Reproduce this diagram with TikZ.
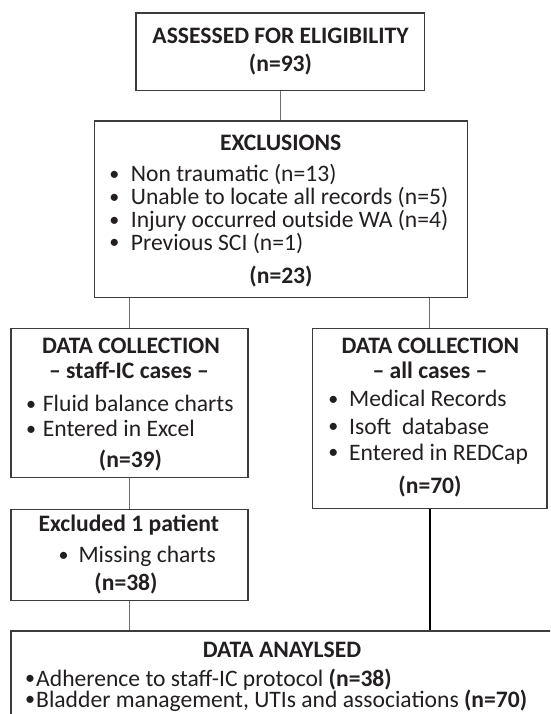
\documentclass[tikz,border=0pt]{standalone}
\usepackage{graphicx}
\usepackage{fontspec}
\setmainfont{Carlito}
\definecolor{inkgray}{HTML}{231F20}
\definecolor{framegray}{HTML}{3C3C3C}
\definecolor{linkgray}{HTML}{6E6E6E}
% bullet hung in front of a line, centred #1 to the left of the text
\newcommand{\bul}[1]{\llap{\makebox[0pt]{\raisebox{1.2pt}{\scalebox{0.85}{•}}}\hspace{#1}}}

\begin{document}
\begin{tikzpicture}[x=1pt, y=-1pt,
    every node/.style={inner sep=0pt, text=inkgray, font=\fontsize{23.6}{26}\selectfont},
    box/.style={draw=framegray, line width=1.2pt},
    link/.style={draw=linkgray, line width=1pt},
    heavy/.style={draw=black, line width=2pt},
    head/.style={anchor=base, font=\fontsize{23.6}{26}\selectfont\bfseries},
    entry/.style={anchor=base west}]
    \useasboundingbox (0,0) rectangle (550,714);
    \clip (0,0) rectangle (550,714);

    % boxes
    \node[box, minimum width=288.5pt, minimum height=77.5pt] (assess) at (280.25,51.75) {};
    \node[box, minimum width=373pt, minimum height=176.5pt] (excl) at (280.8,209.25) {};
    \node[box, minimum width=237pt, minimum height=149pt] (staff) at (129.5,403.2) {};
    \node[box, minimum width=234.3pt, minimum height=179.6pt] (all) at (429.85,418.5) {};
    \node[box, minimum width=237pt, minimum height=91.4pt] (drop) at (129.5,555) {};
    \node[box, minimum width=559pt, minimum height=109pt] (result) at (290.5,685.5) {};

    % connectors
    \draw[link] (assess.south) -- (assess.south |- excl.north);
    \draw[link] (staff.north |- excl.south) -- (staff.north);
    \draw[link] (all.north |- excl.south) -- (all.north);
    \draw[link] (staff) -- (drop);
    \draw[link] (drop.south) -- (drop.south |- result.north);
    \draw[heavy] (all.south) -- (all.south |- result.north);

    % assessed
    \node[head] (assess-h) at (280.5,44) {ASSESSED FOR ELIGIBILITY};
    \node[head] (assess-n) at (280.5,72) {(n=93)};

    % exclusions
    \node[head] (excl-h) at (280.7,151) {EXCLUSIONS};
    \node[entry] (excl-a) at (130.7,181.7) {\bul{16.5pt}Non traumatic (n=13)};
    \node[entry] (excl-b) at (130.7,204.5) {\bul{16.5pt}Unable to locate all records (n=5)};
    \node[entry] (excl-c) at (130.7,227.3) {\bul{16.5pt}Injury occurred outside WA (n=4)};
    \node[entry] (excl-d) at (130.7,250.1) {\bul{16.5pt}Previous SCI (n=1)};
    \node[head] (excl-n) at (281,283) {(n=23)};

    % staff-IC cases
    \node[head] (staff-h) at (131,353.3) {DATA COLLECTION};
    \node[head] (staff-s) at (129,378.3) {– staff-IC cases –};
    \node[entry] (staff-a) at (42.7,411.7) {\bul{11.7pt}Fluid balance charts};
    \node[entry] (staff-b) at (42.7,436.5) {\bul{11.7pt}Entered in Excel};
    \node[head] (staff-n) at (130.5,467.7) {(n=39)};

    % all cases
    \node[head] (all-h) at (430.4,353.3) {DATA COLLECTION};
    \node[head] (all-s) at (430,378.3) {– all cases –};
    \node[entry] (all-a) at (349,406.7) {\bul{15.8pt}Medical Records};
    \node[entry] (all-b) at (349,434) {\bul{15.8pt}Isoft~ database};
    \node[entry] (all-c) at (349,460) {\bul{15.8pt}Entered in REDCap};
    \node[head] (all-n) at (430,493.3) {(n=70)};

    % excluded patient
    \node[head] (drop-h) at (128.8,531.7) {Excluded 1 patient};
    \node[entry] (drop-a) at (78.3,562.3) {\bul{15pt}Missing charts};
    \node[head] (drop-n) at (126,590) {(n=38)};

    % analysed
    \node[head] (result-h) at (282,657) {DATA ANAYLSED};
    \node[entry] (result-a) at (36,686) {\bul{6pt}Adherence to staff-IC protocol \textbf{(n=38)}};
    \node[entry] (result-b) at (36,707) {\bul{6pt}Bladder management, UTIs and associations \textbf{(n=70)}};
\end{tikzpicture}
\end{document}
